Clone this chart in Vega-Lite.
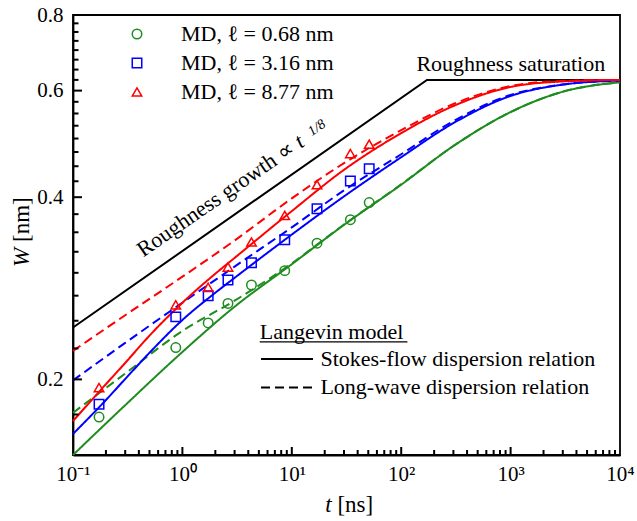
{
  "$schema": "https://vega.github.io/schema/vega-lite/v6.json",
  "width": 547,
  "height": 440,
  "autosize": {"type": "none"},
  "padding": {"left": 73, "top": 15, "right": 17, "bottom": 66},
  "config": {
    "font": "Liberation Serif",
    "view": {"stroke": "black", "strokeWidth": 1.8},
    "axis": {"grid": false, "domainColor": "black", "tickColor": "black", "labelColor": "black", "titleColor": "black", "labelFont": "Liberation Serif", "titleFont": "Liberation Serif", "titleFontWeight": "normal", "domainWidth": 1.8},
    "legend": {"labelFont": "Liberation Serif", "titleFont": "Liberation Serif", "labelColor": "black", "titleColor": "black", "labelLimit": 500},
    "text": {"font": "Liberation Serif"}
  },
  "datasets": {
    "growth": [
      {"t": 0.1, "W": 0.2436},
      {"t": 172, "W": 0.6248},
      {"t": 10000, "W": 0.6248}
    ],
    "xmajor": [{"t": 1}, {"t": 10}, {"t": 100}, {"t": 1000}],
    "xminor": [
      {"t": 0.2}, {"t": 0.3}, {"t": 0.4}, {"t": 0.5}, {"t": 0.6}, {"t": 0.7}, {"t": 0.8}, {"t": 0.9},
      {"t": 2}, {"t": 3}, {"t": 4}, {"t": 5}, {"t": 6}, {"t": 7}, {"t": 8}, {"t": 9},
      {"t": 20}, {"t": 30}, {"t": 40}, {"t": 50}, {"t": 60}, {"t": 70}, {"t": 80}, {"t": 90},
      {"t": 200}, {"t": 300}, {"t": 400}, {"t": 500}, {"t": 600}, {"t": 700}, {"t": 800}, {"t": 900},
      {"t": 2000}, {"t": 3000}, {"t": 4000}, {"t": 5000}, {"t": 6000}, {"t": 7000}, {"t": 8000}, {"t": 9000}
    ],
    "ymajor": [{"W": 0.2}, {"W": 0.4}, {"W": 0.6}],
    "yminor": [
      {"W": 0.175}, {"W": 0.225}, {"W": 0.25}, {"W": 0.275}, {"W": 0.3}, {"W": 0.325}, {"W": 0.35}, {"W": 0.375},
      {"W": 0.425}, {"W": 0.45}, {"W": 0.475}, {"W": 0.5}, {"W": 0.525}, {"W": 0.55}, {"W": 0.575},
      {"W": 0.625}, {"W": 0.65}, {"W": 0.675}, {"W": 0.7}, {"W": 0.725}, {"W": 0.75}, {"W": 0.775}
    ],
    "curves": [
      {"t": 0.1, "W": 0.150, "curve": "0.68", "model": "Stokes-flow dispersion relation"},
      {"t": 0.3, "W": 0.1813, "curve": "0.68", "model": "Stokes-flow dispersion relation"},
      {"t": 1, "W": 0.222, "curve": "0.68", "model": "Stokes-flow dispersion relation"},
      {"t": 3, "W": 0.2637, "curve": "0.68", "model": "Stokes-flow dispersion relation"},
      {"t": 10, "W": 0.31, "curve": "0.68", "model": "Stokes-flow dispersion relation"},
      {"t": 30, "W": 0.36, "curve": "0.68", "model": "Stokes-flow dispersion relation"},
      {"t": 100, "W": 0.4195, "curve": "0.68", "model": "Stokes-flow dispersion relation"},
      {"t": 300, "W": 0.486, "curve": "0.68", "model": "Stokes-flow dispersion relation"},
      {"t": 1000, "W": 0.553, "curve": "0.68", "model": "Stokes-flow dispersion relation"},
      {"t": 3000, "W": 0.5975, "curve": "0.68", "model": "Stokes-flow dispersion relation"},
      {"t": 10000, "W": 0.6194, "curve": "0.68", "model": "Stokes-flow dispersion relation"},

      {"t": 0.1, "W": 0.1761, "curve": "0.68", "model": "Long-wave dispersion relation"},
      {"t": 0.3, "W": 0.2045, "curve": "0.68", "model": "Long-wave dispersion relation"},
      {"t": 1, "W": 0.2405, "curve": "0.68", "model": "Long-wave dispersion relation"},
      {"t": 3, "W": 0.2698, "curve": "0.68", "model": "Long-wave dispersion relation"},
      {"t": 10, "W": 0.311, "curve": "0.68", "model": "Long-wave dispersion relation"},
      {"t": 30, "W": 0.3605, "curve": "0.68", "model": "Long-wave dispersion relation"},
      {"t": 100, "W": 0.42, "curve": "0.68", "model": "Long-wave dispersion relation"},
      {"t": 300, "W": 0.486, "curve": "0.68", "model": "Long-wave dispersion relation"},
      {"t": 1000, "W": 0.553, "curve": "0.68", "model": "Long-wave dispersion relation"},
      {"t": 3000, "W": 0.5975, "curve": "0.68", "model": "Long-wave dispersion relation"},
      {"t": 10000, "W": 0.6194, "curve": "0.68", "model": "Long-wave dispersion relation"},

      {"t": 0.1, "W": 0.1625, "curve": "3.16", "model": "Stokes-flow dispersion relation"},
      {"t": 0.2, "W": 0.1849, "curve": "3.16", "model": "Stokes-flow dispersion relation"},
      {"t": 0.3, "W": 0.2003, "curve": "3.16", "model": "Stokes-flow dispersion relation"},
      {"t": 0.5, "W": 0.2213, "curve": "3.16", "model": "Stokes-flow dispersion relation"},
      {"t": 1, "W": 0.2507, "curve": "3.16", "model": "Stokes-flow dispersion relation"},
      {"t": 2, "W": 0.2781, "curve": "3.16", "model": "Stokes-flow dispersion relation"},
      {"t": 3, "W": 0.2943, "curve": "3.16", "model": "Stokes-flow dispersion relation"},
      {"t": 10, "W": 0.347, "curve": "3.16", "model": "Stokes-flow dispersion relation"},
      {"t": 30, "W": 0.4012, "curve": "3.16", "model": "Stokes-flow dispersion relation"},
      {"t": 100, "W": 0.4657, "curve": "3.16", "model": "Stokes-flow dispersion relation"},
      {"t": 300, "W": 0.5302, "curve": "3.16", "model": "Stokes-flow dispersion relation"},
      {"t": 1000, "W": 0.5879, "curve": "3.16", "model": "Stokes-flow dispersion relation"},
      {"t": 3000, "W": 0.6139, "curve": "3.16", "model": "Stokes-flow dispersion relation"},
      {"t": 10000, "W": 0.6234, "curve": "3.16", "model": "Stokes-flow dispersion relation"},

      {"t": 0.1, "W": 0.1992, "curve": "3.16", "model": "Long-wave dispersion relation"},
      {"t": 0.3, "W": 0.2298, "curve": "3.16", "model": "Long-wave dispersion relation"},
      {"t": 1, "W": 0.2677, "curve": "3.16", "model": "Long-wave dispersion relation"},
      {"t": 3, "W": 0.3072, "curve": "3.16", "model": "Long-wave dispersion relation"},
      {"t": 10, "W": 0.3566, "curve": "3.16", "model": "Long-wave dispersion relation"},
      {"t": 30, "W": 0.4106, "curve": "3.16", "model": "Long-wave dispersion relation"},
      {"t": 100, "W": 0.471, "curve": "3.16", "model": "Long-wave dispersion relation"},
      {"t": 300, "W": 0.5343, "curve": "3.16", "model": "Long-wave dispersion relation"},
      {"t": 1000, "W": 0.5902, "curve": "3.16", "model": "Long-wave dispersion relation"},
      {"t": 3000, "W": 0.6142, "curve": "3.16", "model": "Long-wave dispersion relation"},
      {"t": 10000, "W": 0.6234, "curve": "3.16", "model": "Long-wave dispersion relation"},

      {"t": 0.1, "W": 0.1707, "curve": "8.77", "model": "Stokes-flow dispersion relation"},
      {"t": 0.2, "W": 0.1964, "curve": "8.77", "model": "Stokes-flow dispersion relation"},
      {"t": 0.3, "W": 0.2129, "curve": "8.77", "model": "Stokes-flow dispersion relation"},
      {"t": 0.5, "W": 0.2362, "curve": "8.77", "model": "Stokes-flow dispersion relation"},
      {"t": 1, "W": 0.2677, "curve": "8.77", "model": "Stokes-flow dispersion relation"},
      {"t": 2, "W": 0.299, "curve": "8.77", "model": "Stokes-flow dispersion relation"},
      {"t": 3, "W": 0.3175, "curve": "8.77", "model": "Stokes-flow dispersion relation"},
      {"t": 10, "W": 0.3794, "curve": "8.77", "model": "Stokes-flow dispersion relation"},
      {"t": 30, "W": 0.4439, "curve": "8.77", "model": "Stokes-flow dispersion relation"},
      {"t": 100, "W": 0.5104, "curve": "8.77", "model": "Stokes-flow dispersion relation"},
      {"t": 300, "W": 0.5659, "curve": "8.77", "model": "Stokes-flow dispersion relation"},
      {"t": 1000, "W": 0.6084, "curve": "8.77", "model": "Stokes-flow dispersion relation"},
      {"t": 3000, "W": 0.6213, "curve": "8.77", "model": "Stokes-flow dispersion relation"},
      {"t": 10000, "W": 0.625, "curve": "8.77", "model": "Stokes-flow dispersion relation"},

      {"t": 0.1, "W": 0.2229, "curve": "8.77", "model": "Long-wave dispersion relation"},
      {"t": 0.3, "W": 0.2553, "curve": "8.77", "model": "Long-wave dispersion relation"},
      {"t": 1, "W": 0.2956, "curve": "8.77", "model": "Long-wave dispersion relation"},
      {"t": 3, "W": 0.3392, "curve": "8.77", "model": "Long-wave dispersion relation"},
      {"t": 10, "W": 0.3982, "curve": "8.77", "model": "Long-wave dispersion relation"},
      {"t": 30, "W": 0.4553, "curve": "8.77", "model": "Long-wave dispersion relation"},
      {"t": 100, "W": 0.5163, "curve": "8.77", "model": "Long-wave dispersion relation"},
      {"t": 300, "W": 0.5702, "curve": "8.77", "model": "Long-wave dispersion relation"},
      {"t": 1000, "W": 0.6106, "curve": "8.77", "model": "Long-wave dispersion relation"},
      {"t": 3000, "W": 0.6226, "curve": "8.77", "model": "Long-wave dispersion relation"},
      {"t": 10000, "W": 0.625, "curve": "8.77", "model": "Long-wave dispersion relation"}
    ],
    "md": [
      {"t": 0.173, "W": 0.1733, "series": "MD, ℓ = 0.68 nm"},
      {"t": 0.87, "W": 0.2257, "series": "MD, ℓ = 0.68 nm"},
      {"t": 1.72, "W": 0.2479, "series": "MD, ℓ = 0.68 nm"},
      {"t": 2.61, "W": 0.267, "series": "MD, ℓ = 0.68 nm"},
      {"t": 4.28, "W": 0.2864, "series": "MD, ℓ = 0.68 nm"},
      {"t": 8.62, "W": 0.3025, "series": "MD, ℓ = 0.68 nm"},
      {"t": 17.0, "W": 0.3358, "series": "MD, ℓ = 0.68 nm"},
      {"t": 34.3, "W": 0.3672, "series": "MD, ℓ = 0.68 nm"},
      {"t": 51.0, "W": 0.3919, "series": "MD, ℓ = 0.68 nm"},
      {"t": 0.173, "W": 0.1819, "series": "MD, ℓ = 3.16 nm"},
      {"t": 0.87, "W": 0.2537, "series": "MD, ℓ = 3.16 nm"},
      {"t": 1.72, "W": 0.275, "series": "MD, ℓ = 3.16 nm"},
      {"t": 2.61, "W": 0.2919, "series": "MD, ℓ = 3.16 nm"},
      {"t": 4.28, "W": 0.3118, "series": "MD, ℓ = 3.16 nm"},
      {"t": 8.62, "W": 0.3401, "series": "MD, ℓ = 3.16 nm"},
      {"t": 17.0, "W": 0.3829, "series": "MD, ℓ = 3.16 nm"},
      {"t": 34.3, "W": 0.4254, "series": "MD, ℓ = 3.16 nm"},
      {"t": 51.0, "W": 0.4456, "series": "MD, ℓ = 3.16 nm"},
      {"t": 0.173, "W": 0.1939, "series": "MD, ℓ = 8.77 nm"},
      {"t": 0.87, "W": 0.2656, "series": "MD, ℓ = 8.77 nm"},
      {"t": 1.72, "W": 0.2839, "series": "MD, ℓ = 8.77 nm"},
      {"t": 2.61, "W": 0.3066, "series": "MD, ℓ = 8.77 nm"},
      {"t": 4.28, "W": 0.3373, "series": "MD, ℓ = 8.77 nm"},
      {"t": 8.62, "W": 0.3732, "series": "MD, ℓ = 8.77 nm"},
      {"t": 17.0, "W": 0.4195, "series": "MD, ℓ = 8.77 nm"},
      {"t": 34.3, "W": 0.4723, "series": "MD, ℓ = 8.77 nm"},
      {"t": 51.0, "W": 0.4893, "series": "MD, ℓ = 8.77 nm"}
    ],
    "notes": [
      {"t": 137.7, "W": 0.6467, "label": "Roughness saturation", "kind": "sat"},
      {"t": 0.4383, "W": 0.318, "label": "Roughness growth ∝", "kind": "growth"},
      {"t": 12.06, "W": 0.481, "label": "t", "kind": "tvar"},
      {"t": 15.2, "W": 0.5046, "label": "1/8", "kind": "exp"}
    ],
    "underline": [
      {"t": 5.09, "t2": 114, "W": 0.2307}
    ]
  },
  "resolve": {"axis": {"x": "independent", "y": "independent"}},
  "layer": [
    {
      "data": {"name": "growth"},
      "mark": {"type": "line", "color": "black", "strokeWidth": 2},
      "encoding": {
        "x": {"field": "t", "type": "quantitative", "scale": {"type": "log", "domain": [0.1, 10000], "nice": false},
          "axis": {"orient": "bottom", "values": [0.1, 1, 10, 100, 1000, 10000], "ticks": false, "labelFontSize": 21, "labelPadding": 8, "labelFlush": false,
            "labelExpr": "datum.value < 0.5 ? '10⁻¹' : datum.value < 5 ? '10⁰' : datum.value < 50 ? '10¹' : datum.value < 500 ? '10²' : datum.value < 5000 ? '10³' : '10⁴'",
            "title": "t", "titleFontStyle": "italic", "titleFontSize": 23, "titleX": 254.9, "titleY": 56.7, "titleBaseline": "alphabetic", "titleAlign": "center"}},
        "y": {"field": "W", "type": "quantitative", "scale": {"type": "log", "domain": [0.15, 0.8], "nice": false},
          "axis": {"orient": "left", "values": [0.2, 0.4, 0.6, 0.8], "format": ".1f", "ticks": false, "labelFontSize": 21, "labelPadding": 10,
            "title": "W", "titleFontStyle": "italic", "titleFontSize": 23, "titleX": -45, "titleY": 241.8, "titleAngle": -90, "titleAlign": "center", "titleBaseline": "alphabetic"}}
      }
    },
    {
      "data": {"name": "curves"},
      "mark": {"type": "line", "strokeWidth": 2, "interpolate": "monotone"},
      "encoding": {
        "x": {"field": "t", "type": "quantitative", "scale": {"type": "log", "domain": [0.1, 10000], "nice": false},
          "axis": {"orient": "bottom", "values": [1], "labels": false, "domain": false, "ticks": false,
            "title": "[ns]", "titleFontSize": 23, "titleX": 281.8, "titleY": 56.7, "titleBaseline": "alphabetic", "titleAlign": "center", "titleAngle": 0}},
        "y": {"field": "W", "type": "quantitative", "scale": {"type": "log", "domain": [0.15, 0.8], "nice": false},
          "axis": {"orient": "left", "values": [0.2], "labels": false, "domain": false, "ticks": false,
            "title": "[nm]", "titleFontSize": 23, "titleX": -45, "titleY": 204.1, "titleAngle": -90, "titleAlign": "center", "titleBaseline": "alphabetic"}},
        "stroke": {"field": "curve", "type": "nominal",
          "scale": {"domain": ["0.68", "3.16", "8.77"], "range": ["#1e8c1e", "#0000ff", "#ff0000"]},
          "legend": null},
        "strokeDash": {"field": "model", "type": "nominal",
          "scale": {"domain": ["Stokes-flow dispersion relation", "Long-wave dispersion relation"], "range": [[1, 0], [9, 5]]},
          "legend": {"orient": "none", "legendX": 186.7, "legendY": 307, "padding": 0, "title": "Langevin model", "titleFontSize": 22, "titleFontWeight": "normal", "titlePadding": 4,
            "labelFontSize": 22, "labelLimit": 500, "symbolType": "M-3,0H3", "symbolSize": 300, "symbolStrokeColor": "black", "symbolStrokeWidth": 2, "symbolOffset": 16.3, "labelOffset": 22.4, "rowPadding": 6.4}}
      }
    },
    {
      "data": {"name": "md"},
      "mark": {"type": "point", "filled": false, "strokeWidth": 1.5, "size": 90, "opacity": 1},
      "encoding": {
        "x": {"field": "t", "type": "quantitative", "axis": null},
        "y": {"field": "W", "type": "quantitative", "axis": null},
        "color": {"field": "series", "type": "nominal",
          "scale": {"domain": ["MD, ℓ = 0.68 nm", "MD, ℓ = 3.16 nm", "MD, ℓ = 8.77 nm"], "range": ["#1e8c1e", "#0000ff", "#ff0000"]},
          "legend": {"orient": "none", "legendX": 53, "legendY": 8, "padding": 0, "title": null, "labelFontSize": 22, "labelLimit": 500, "symbolSize": 90, "symbolStrokeWidth": 1.5, "labelOffset": 33, "rowPadding": 7}},
        "shape": {"field": "series", "type": "nominal",
          "scale": {"domain": ["MD, ℓ = 0.68 nm", "MD, ℓ = 3.16 nm", "MD, ℓ = 8.77 nm"], "range": ["circle", "square", "triangle-up"]},
          "legend": {"orient": "none", "legendX": 53, "legendY": 8, "padding": 0, "title": null, "labelFontSize": 22, "labelLimit": 500, "symbolSize": 90, "symbolStrokeWidth": 1.5, "labelOffset": 33, "rowPadding": 7}}
      }
    },
    {
      "data": {"name": "xmajor"},
      "mark": {"type": "tick", "orient": "vertical", "size": 16, "thickness": 2, "color": "black", "clip": true, "opacity": 1},
      "encoding": {
        "x": {"field": "t", "type": "quantitative", "axis": null},
        "y": {"datum": 0.15, "type": "quantitative", "axis": null}
      }
    },
    {
      "data": {"name": "xminor"},
      "mark": {"type": "tick", "orient": "vertical", "size": 10, "thickness": 2, "color": "black", "clip": true, "opacity": 1},
      "encoding": {
        "x": {"field": "t", "type": "quantitative", "axis": null},
        "y": {"datum": 0.15, "type": "quantitative", "axis": null}
      }
    },
    {
      "data": {"name": "ymajor"},
      "mark": {"type": "tick", "orient": "horizontal", "size": 18, "thickness": 2, "color": "black", "clip": true, "opacity": 1},
      "encoding": {
        "y": {"field": "W", "type": "quantitative", "axis": null},
        "x": {"datum": 0.1, "type": "quantitative", "axis": null}
      }
    },
    {
      "data": {"name": "yminor"},
      "mark": {"type": "tick", "orient": "horizontal", "size": 11, "thickness": 2, "color": "black", "clip": true, "opacity": 1},
      "encoding": {
        "y": {"field": "W", "type": "quantitative", "axis": null},
        "x": {"datum": 0.1, "type": "quantitative", "axis": null}
      }
    },
    {
      "data": {"name": "notes"},
      "transform": [{"filter": "datum.kind == 'sat'"}],
      "mark": {"type": "text", "align": "left", "baseline": "alphabetic", "fontSize": 22, "color": "black"},
      "encoding": {
        "x": {"field": "t", "type": "quantitative", "axis": null},
        "y": {"field": "W", "type": "quantitative", "axis": null},
        "text": {"field": "label"}
      }
    },
    {
      "data": {"name": "notes"},
      "transform": [{"filter": "datum.kind == 'growth'"}],
      "mark": {"type": "text", "align": "left", "baseline": "alphabetic", "fontSize": 22, "color": "black", "angle": -34.7},
      "encoding": {
        "x": {"field": "t", "type": "quantitative", "axis": null},
        "y": {"field": "W", "type": "quantitative", "axis": null},
        "text": {"field": "label"}
      }
    },
    {
      "data": {"name": "notes"},
      "transform": [{"filter": "datum.kind == 'tvar'"}],
      "mark": {"type": "text", "align": "left", "baseline": "alphabetic", "fontSize": 22, "fontStyle": "italic", "color": "black", "angle": -34.7},
      "encoding": {
        "x": {"field": "t", "type": "quantitative", "axis": null},
        "y": {"field": "W", "type": "quantitative", "axis": null},
        "text": {"field": "label"}
      }
    },
    {
      "data": {"name": "notes"},
      "transform": [{"filter": "datum.kind == 'exp'"}],
      "mark": {"type": "text", "align": "left", "baseline": "alphabetic", "fontSize": 14, "fontStyle": "italic", "color": "black", "angle": -34.7},
      "encoding": {
        "x": {"field": "t", "type": "quantitative", "axis": null},
        "y": {"field": "W", "type": "quantitative", "axis": null},
        "text": {"field": "label"}
      }
    },
    {
      "data": {"name": "underline"},
      "mark": {"type": "rule", "color": "black", "strokeWidth": 1.3},
      "encoding": {
        "x": {"field": "t", "type": "quantitative", "axis": null},
        "x2": {"field": "t2"},
        "y": {"field": "W", "type": "quantitative", "axis": null}
      }
    }
  ]
}
